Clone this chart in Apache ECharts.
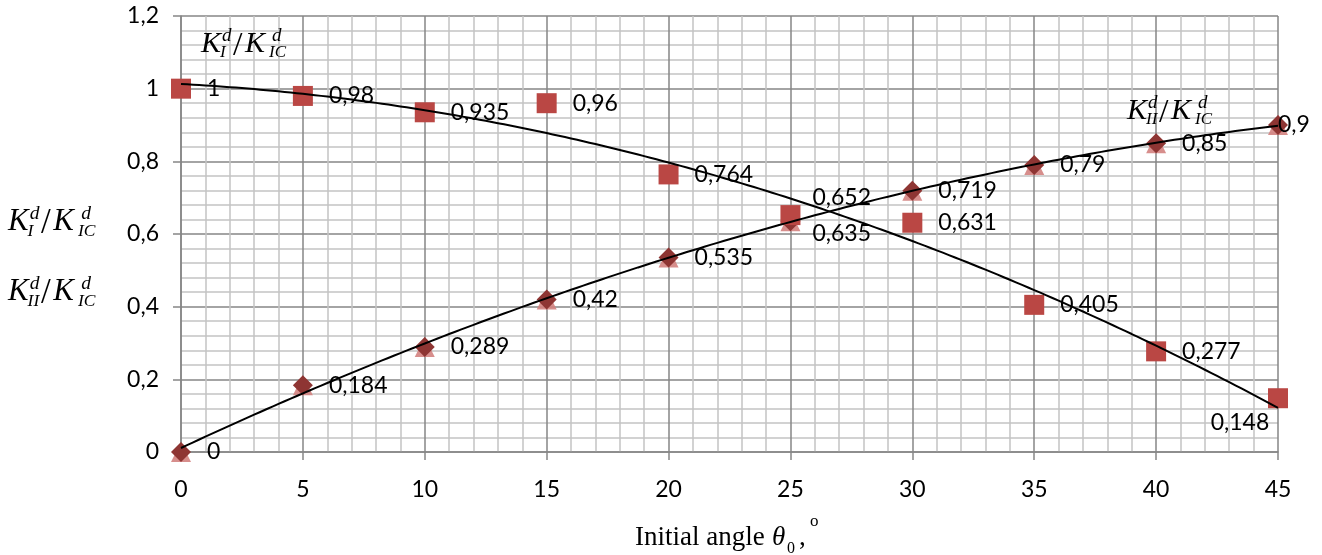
<!DOCTYPE html>
<html><head><meta charset="utf-8">
<script src="https://cdn.jsdelivr.net/npm/echarts@6/dist/echarts.min.js"></script>
<style>html,body{margin:0;padding:0;background:#fff}#c{width:1322px;height:555px}</style>
</head><body><div id="c"></div>
<script>
// ---- data ----
const angles = [0, 5, 10, 15, 20, 25, 30, 35, 40, 45];
const kIRatio = [1, 0.98, 0.935, 0.96, 0.764, 0.652, 0.631, 0.405, 0.277, 0.148];
const kIIRatio = [0, 0.184, 0.289, 0.42, 0.535, 0.635, 0.719, 0.79, 0.85, 0.9];
const xTickValues = [0, 5, 10, 15, 20, 25, 30, 35, 40, 45];
const yTickLabels = ['0', '0,2', '0,4', '0,6', '0,8', '1', '1,2'];

// label placement tweaks (layout only)
const kILabelTweaks = {5: {offset: [-4, -18]}, 9: {position: 'inside', offset: [-38, 24]}};
const kIILabelTweaks = {5: {offset: [-4, 12]}, 9: {offset: [-26, 0]}};

// ---- quadratic least-squares trend (like a spreadsheet polynomial trendline) ----
function polyfit2(xs, ys) {
  const S = [0,0,0,0,0], T = [0,0,0];
  for (let i = 0; i < xs.length; i++) {
    let p = 1;
    for (let k = 0; k < 5; k++) { S[k] += p; p *= xs[i]; }
    T[0] += ys[i]; T[1] += ys[i]*xs[i]; T[2] += ys[i]*xs[i]*xs[i];
  }
  const A = [[S[0],S[1],S[2],T[0]],[S[1],S[2],S[3],T[1]],[S[2],S[3],S[4],T[2]]];
  for (let c = 0; c < 3; c++) {
    for (let r = c+1; r < 3; r++) {
      const f = A[r][c]/A[c][c];
      for (let k = c; k < 4; k++) A[r][k] -= f*A[c][k];
    }
  }
  const x = [0,0,0];
  for (let r = 2; r >= 0; r--) {
    let s = A[r][3];
    for (let k = r+1; k < 3; k++) s -= A[r][k]*x[k];
    x[r] = s/A[r][r];
  }
  return x;
}
function trend(ys) {
  const c = polyfit2(angles, ys);
  const out = [];
  const lo = angles[0], hi = angles[angles.length-1];
  for (let t = lo; t <= hi + 1e-9; t += 0.25) out.push([t, c[0] + c[1]*t + c[2]*t*t]);
  return out;
}
const fmt = v => String(v).replace('.', ',');

function pointsWithLabels(ys, tweaks) {
  return ys.map((v, i) => {
    const item = {value: [angles[i], v]};
    if (tweaks[i]) item.label = Object.assign({}, tweaks[i]);
    return item;
  });
}

// ---- math text helper: K_sub^d / K_IC^d ----
const SERIF = '"Liberation Serif", "DejaVu Serif", serif';
function txt(x, y, s, size, italic) {
  return {type: 'text', x: x, y: y, silent: true, z: 100,
    style: {text: s, font: (italic ? 'italic ' : '') + size + 'px ' + SERIF,
      fill: '#000', align: 'left', verticalAlign: 'middle', textAlign: 'left', textVerticalAlign: 'middle'}};
}
function frac(x, yc, sub, sc) {
  sc = sc || 1;
  return [
    txt(x, yc, 'K', 30*sc, true),
    txt(x + 21*sc, yc - 8*sc, 'd', 19*sc, true),
    txt(x + 19*sc, yc + 9*sc, sub, 17*sc, true),
    txt(x + 32*sc, yc + 2*sc, '/', 34*sc, false),
    txt(x + 44*sc, yc, 'K', 30*sc, true),
    txt(x + 71*sc, yc - 8*sc, 'd', 19*sc, true),
    txt(x + 68*sc, yc + 9*sc, 'IC', 17*sc, true)
  ];
}

const graphics = [].concat(
  frac(201, 44, 'I', 1),
  frac(1127, 111, 'II', 1),
  frac(8, 222, 'I', 1.03),
  frac(8, 292, 'II', 1.03),
  [
    txt(635, 538, 'Initial angle', 27, false),
    txt(772, 538, 'θ', 27, true),
    txt(787, 549, '0', 16, false),
    txt(799, 538, ',', 27, false),
    txt(810, 522, 'o', 17, false)
  ]
);

const LABEL_FONT = 'Lato, "Open Sans", sans-serif';
const chart = echarts.init(document.getElementById('c'), null, {renderer: 'canvas'});
chart.setOption({
  animation: false,
  backgroundColor: '#fff',
  grid: {left: 181, right: 44, top: 16, bottom: 103, containLabel: false},
  xAxis: {
    type: 'value', min: 0, max: 45, interval: 5,
    axisLine: {show: true, onZero: false, lineStyle: {color: '#868686', width: 1.5}},
    axisTick: {show: true, length: 8, lineStyle: {color: '#868686', width: 1.5}},
    axisLabel: {color: '#000', fontFamily: LABEL_FONT, fontSize: 23, margin: 26,
      formatter: v => String(xTickValues[xTickValues.indexOf(v)])},
    splitLine: {show: true, lineStyle: {color: '#868686', width: 1.5}},
    minorTick: {show: false, splitNumber: 5},
    minorSplitLine: {show: true, lineStyle: {color: '#c3c3c3', width: 1.5}}
  },
  yAxis: {
    type: 'value', min: 0, max: 1.2, interval: 0.2,
    axisLine: {show: true, onZero: false, lineStyle: {color: '#868686', width: 1.5}},
    axisTick: {show: true, length: 8, lineStyle: {color: '#868686', width: 1.5}},
    axisLabel: {color: '#000', fontFamily: LABEL_FONT, fontSize: 23, margin: 22,
      formatter: v => yTickLabels[Math.round(v / 0.2)]},
    splitLine: {show: true, lineStyle: {color: '#868686', width: 1.5}},
    minorTick: {show: false, splitNumber: 5},
    minorSplitLine: {show: true, lineStyle: {color: '#c3c3c3', width: 1.5}}
  },
  series: [
    {
      name: 'KII tri', type: 'scatter', symbol: 'triangle', symbolSize: 20, z: 2,
      itemStyle: {color: '#D3827F', opacity: 0.9},
      data: kIIRatio.map((v, i) => [angles[i], v])
    },
    {
      name: 'KII', type: 'scatter', symbol: 'diamond', symbolSize: 20, z: 3,
      itemStyle: {color: '#8E3533', opacity: 1},
      label: {show: true, position: 'right', distance: 16, color: '#000',
        fontFamily: LABEL_FONT, fontSize: 23, formatter: p => fmt(p.value[1])},
      data: pointsWithLabels(kIIRatio, kIILabelTweaks)
    },
    {
      name: 'KI', type: 'scatter', symbol: 'rect', symbolSize: 20, z: 3,
      itemStyle: {color: '#BA4744', opacity: 1},
      label: {show: true, position: 'right', distance: 16, color: '#000',
        fontFamily: LABEL_FONT, fontSize: 23, formatter: p => fmt(p.value[1])},
      data: pointsWithLabels(kIRatio, kILabelTweaks)
    },
    {
      name: 'KI trend', type: 'line', showSymbol: false, symbol: 'none', silent: true, z: 4,
      lineStyle: {color: '#000', width: 2}, data: trend(kIRatio)
    },
    {
      name: 'KII trend', type: 'line', showSymbol: false, symbol: 'none', silent: true, z: 4,
      lineStyle: {color: '#000', width: 2}, data: trend(kIIRatio)
    }
  ],
  graphic: graphics
});
</script></body></html>
